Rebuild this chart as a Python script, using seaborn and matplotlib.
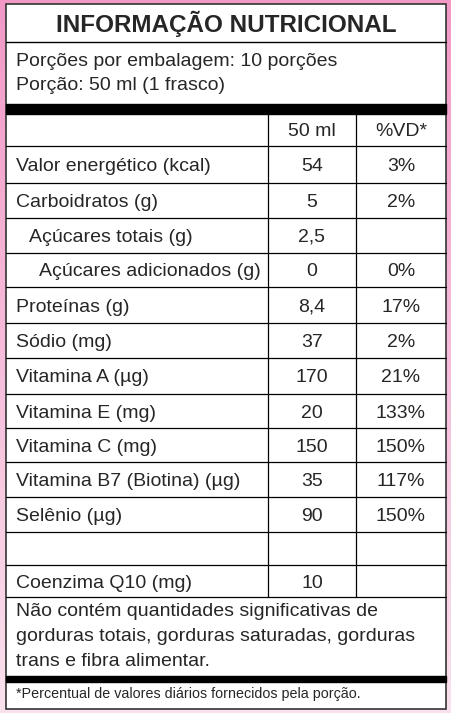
import numpy as np
import seaborn as sns
import matplotlib
matplotlib.use("Agg")
import matplotlib.pyplot as plt

sns.set_theme(style="white")
plt.rcParams["font.family"] = ["Liberation Sans", "DejaVu Sans"]

TITLE = "INFORMAÇÃO NUTRICIONAL"
SERVINGS = ["Porções por embalagem: 10 porções", "Porção: 50 ml (1 frasco)"]
HEADER = ["50 ml", "%VD*"]
nutrients = ["Valor energético (kcal)", "Carboidratos (g)", "Açúcares totais (g)",
             "Açúcares adicionados (g)", "Proteínas (g)", "Sódio (mg)",
             "Vitamina A (µg)", "Vitamina E (mg)", "Vitamina C (mg)",
             "Vitamina B7 (Biotina) (µg)", "Selênio (µg)", "", "Coenzima Q10 (mg)"]
indent = [0, 0, 1, 2, 0, 0, 0, 0, 0, 0, 0, 0, 0]
amounts = ["54", "5", "2,5", "0", "8,4", "37", "170", "20", "150", "35", "90", "", "10"]
vd = ["3%", "2%", "", "0%", "17%", "2%", "21%", "133%", "150%", "117%", "150%", "", ""]
NOTE = ["Não contém quantidades significativas de",
        "gorduras totais, gorduras saturadas, gorduras",
        "trans e fibra alimentar."]
FOOT = "*Percentual de valores diários fornecidos pela porção."

# row boundaries (pixels)
row_lines = [146, 183, 218, 253, 287, 323, 358, 394, 428, 462, 497, 532, 565, 597]
indent_x = [16, 29, 39]
FS = 14

fig = plt.figure(figsize=(4.52, 7.13), dpi=100)
ax = fig.add_axes([0, 0, 1, 1])
ax.set_xlim(0, 452)
ax.set_ylim(713, 0)
ax.axis("off")

# pink gradient background
t = np.linspace(0, 1, 100)[:, None]
top = np.array([0.95, 0.60, 0.78])
bot = np.array([0.98, 0.88, 0.93])
grad = (top * (1 - t) + bot * t)[:, None, :].repeat(2, axis=1)
ax.imshow(grad, extent=[0, 452, 713, 0], aspect="auto", zorder=0)

L, R = 6, 446
ax.add_patch(plt.Rectangle((L, 4), R - L, 705, facecolor="white",
                           edgecolor="#333333", lw=1.2, zorder=1))
lk = dict(color="black", zorder=2)
ax.plot([L, R], [42, 42], lw=1.0, **lk)
ax.add_patch(plt.Rectangle((L, 104), R - L, 10, color="black", zorder=2))
ax.add_patch(plt.Rectangle((L, 676), R - L, 6, color="black", zorder=2))
for y in row_lines:
    ax.plot([L, R], [y, y], lw=0.9, **lk)
for x in (268, 356):
    ax.plot([x, x], [114, 597], lw=0.9, **lk)

ax.text(226, 24, TITLE, ha="center", va="center", fontsize=17.5,
        fontweight="bold", zorder=3)
for i, s in enumerate(SERVINGS):
    ax.text(16, 62 + 23 * i, s, ha="left", va="center", fontsize=FS, zorder=3)
ax.text(312, 131, HEADER[0], ha="center", va="center", fontsize=FS, zorder=3)
ax.text(401, 131, HEADER[1], ha="center", va="center", fontsize=FS, zorder=3)

for i, name in enumerate(nutrients):
    yc = (row_lines[i] + row_lines[i + 1]) / 2 + 2
    ax.text(indent_x[indent[i]], yc, name, ha="left", va="center", fontsize=FS, zorder=3)
    ax.text(312, yc, amounts[i], ha="center", va="center", fontsize=FS, zorder=3)
    ax.text(401, yc, vd[i], ha="center", va="center", fontsize=FS, zorder=3)

for i, s in enumerate(NOTE):
    ax.text(16, 612 + 24.5 * i, s, ha="left", va="center", fontsize=FS, zorder=3)
ax.text(16, 694, FOOT, ha="left", va="center", fontsize=10.3, zorder=3)

fig.savefig("out.png", dpi=100)
